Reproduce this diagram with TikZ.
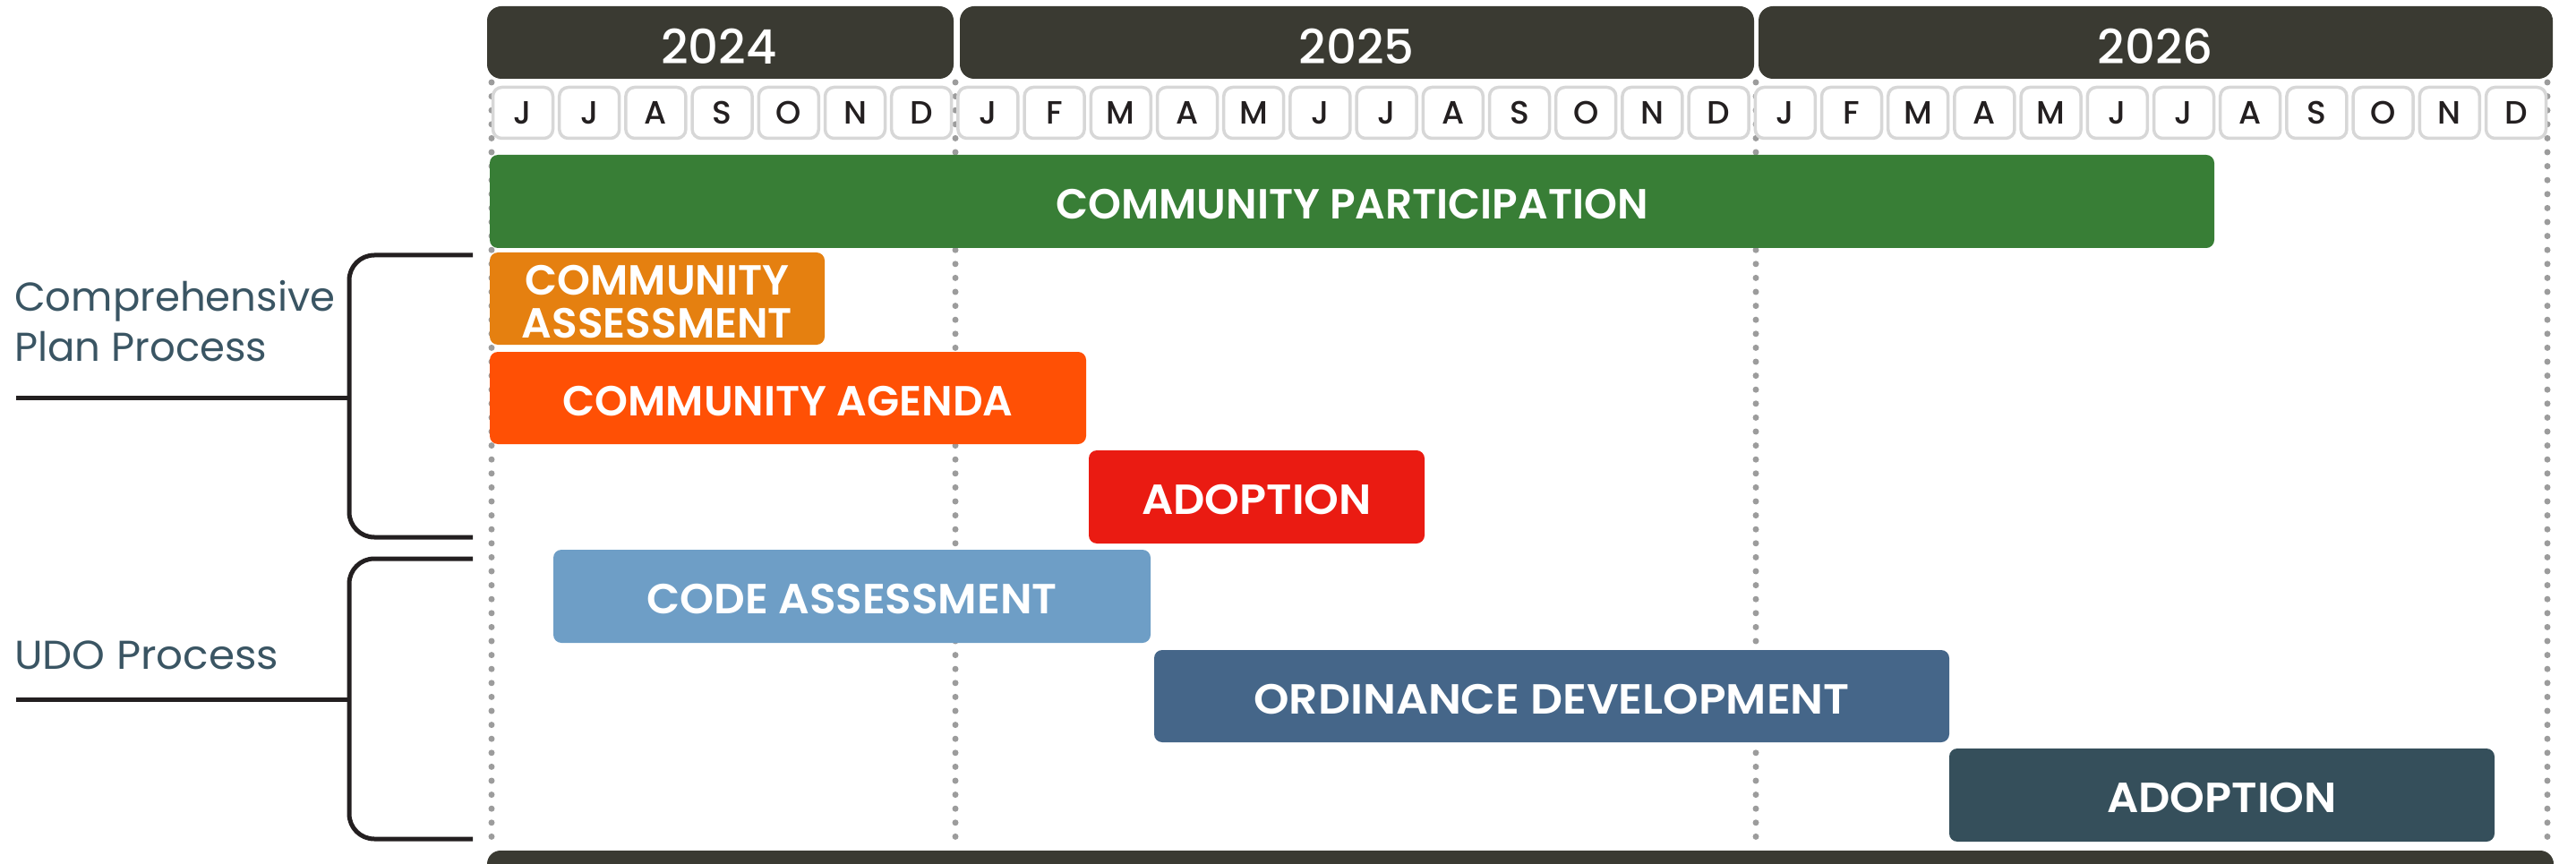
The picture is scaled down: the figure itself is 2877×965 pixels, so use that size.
\documentclass[tikz,border=0pt]{standalone}
\usepackage{fontspec}
\setmainfont{Poppins}
\newfontfamily\semib{Poppins SemiBold}
\newfontfamily\medf{Poppins Medium}
\definecolor{yearc}{HTML}{3A3A32}
\definecolor{monthb}{HTML}{D7D7D7}
\definecolor{monthtxt}{HTML}{231F20}
\definecolor{dotc}{HTML}{9C9C9C}
\definecolor{brk}{HTML}{231F20}
\definecolor{labc}{HTML}{3A5563}
\definecolor{cpgreen}{HTML}{387E36}
\definecolor{caorange}{HTML}{E58010}
\definecolor{agorange}{HTML}{FF5005}
\definecolor{adred}{HTML}{EA1B12}
\definecolor{codeblue}{HTML}{6E9EC6}
\definecolor{ordblue}{HTML}{456689}
\definecolor{adslate}{HTML}{354F5B}
\begin{document}
\begin{tikzpicture}[x=1pt,y=-1pt,
  yearbar/.style={fill=yearc, rounded corners=16pt, inner sep=0pt, minimum height=81pt},
  yeartext/.style={text=white, inner sep=0pt, font=\medf\fontsize{53}{53}\selectfont},
  monthbox/.style={draw=monthb, line width=3.5pt, fill=white, rounded corners=10pt, minimum width=67pt, minimum height=57pt, inner sep=0pt, font=\medf\fontsize{36}{36}\selectfont, text=monthtxt},
  taskbar/.style={rounded corners=9pt, inner sep=0pt},
  tasktext/.style={inner sep=0pt, text=white, font=\semib\fontsize{47}{48}\selectfont, align=center},
  bracket/.style={draw=brk, line width=5pt, rounded corners=28pt},
  dotline/.style={draw=dotc, line width=7pt, line cap=round, dash pattern=on 0pt off 15.6pt},
  sidelabel/.style={text=labc, inner sep=0pt, anchor=base west, font=\fontsize{45}{55}\selectfont}]
\useasboundingbox (0,0) rectangle (2877,965);
\clip (0,0) rectangle (2877,965);

% dotted year dividers
\foreach \xx/\nm in {549/d0,1067/d1,1961/d2,2845/d3}{
  \coordinate (\nm t) at (\xx,92);
  \coordinate (\nm b) at (\xx,948);
  \draw[dotline] (\nm t) -- (\nm b);
}

% year bars
\node[yearbar, minimum width=521pt] (y24) at (804.5,47.5) {};
\node[yearbar, minimum width=887pt] (y25) at (1515.5,47.5) {};
\node[yearbar, minimum width=887pt] (y26) at (2407.5,47.5) {};
\node[yeartext] (t24) at (803,52) {2024};
\node[yeartext] (t25) at (1515,52) {2025};
\node[yeartext] (t26) at (2407,52) {2026};

% month boxes
\foreach \m [count=\i from 0] in {J,J,A,S,O,N,D,J,F,M,A,M,J,J,A,S,O,N,D,J,F,M,A,M,J,J,A,S,O,N,D}{
  \node[monthbox] (m\i) at ({584+\i*74.2},126) {\m};
}

% task bars
\node[taskbar, fill=cpgreen, minimum width=1926pt, minimum height=104pt] (cp) at (1510,225) {};
\node[taskbar, fill=caorange, minimum width=374pt, minimum height=103pt] (ca) at (734,333.5) {};
\node[taskbar, fill=agorange, minimum width=666pt, minimum height=103pt] (ag) at (880,444.5) {};
\node[taskbar, fill=adred, minimum width=375pt, minimum height=104pt] (ad1) at (1403.5,555) {};
\node[taskbar, fill=codeblue, minimum width=667pt, minimum height=104pt] (code) at (951.5,666) {};
\node[taskbar, fill=ordblue, minimum width=888pt, minimum height=103pt] (ord) at (1733,777.5) {};
\node[taskbar, fill=adslate, minimum width=609pt, minimum height=104pt] (ad2) at (2481.5,888) {};

\node[tasktext] (cpT) at ([yshift=-3.5pt]cp.center) {COMMUNITY PARTICIPATION};
\node[tasktext] (caT) at ([yshift=-4pt]ca.center) {COMMUNITY\\ASSESSMENT};
\node[tasktext] (agT) at ([yshift=-3.5pt]ag.center) {COMMUNITY AGENDA};
\node[tasktext] (ad1T) at ([yshift=-3.5pt]ad1.center) {\scalebox{1.05}[1]{ADOPTION}};
\node[tasktext] (codeT) at ([yshift=-3.5pt]code.center) {\scalebox{1.03}[1]{CODE ASSESSMENT}};
\node[tasktext] (ordT) at ([yshift=-3.5pt]ord.center) {\scalebox{1.07}[1]{ORDINANCE DEVELOPMENT}};
\node[tasktext] (ad2T) at ([yshift=-3.5pt]ad2.center) {\scalebox{1.05}[1]{ADOPTION}};

% bottom bar
\fill[yearc, rounded corners=15pt] (544,950) rectangle (2852,995);

% brackets and side labels
\coordinate (b1t) at (528,285);
\coordinate (b1b) at (528,600);
\coordinate (b1v) at (390,600);
\coordinate (b1m) at (390,444);
\coordinate (b1l) at (18,444);
\draw[bracket] (b1t) -| (b1v) -- (b1b);
\draw[bracket, rounded corners=0pt] (b1l) -- (b1m);
\coordinate (b2t) at (528,624);
\coordinate (b2b) at (528,937);
\coordinate (b2v) at (390,937);
\coordinate (b2m) at (390,781);
\coordinate (b2l) at (18,781);
\draw[bracket] (b2t) -| (b2v) -- (b2b);
\draw[bracket, rounded corners=0pt] (b2l) -- (b2m);

\node[sidelabel] (l1a) at (16,348) {Comprehensive};
\node[sidelabel] (l1b) at (16,403) {Plan Process};
\node[sidelabel] (l2) at (16,747) {\scalebox{1.04}[1]{UDO Process}};
\end{tikzpicture}
\end{document}
